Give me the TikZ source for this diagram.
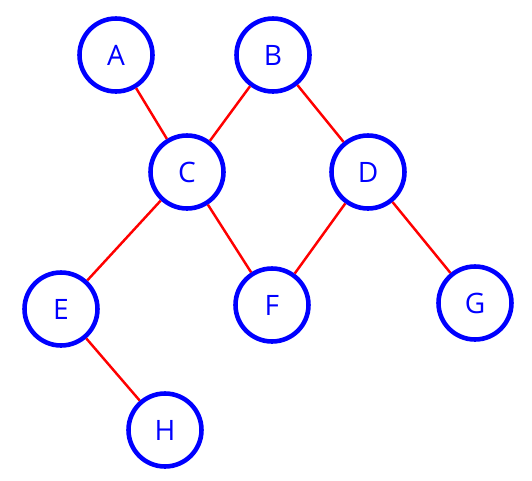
\documentclass[tikz,border=0pt]{standalone}
\usepackage{xcolor}
\usepackage{fontspec}
\setsansfont{Open Sans}

\tikzset{
  vertex/.style={circle, draw=blue, line width=2.6pt, minimum size=1.46cm,
    inner sep=0pt, text=blue, font=\sffamily\fontsize{16}{16}\selectfont},
  edge/.style={draw=red, line width=1.4pt}
}

\begin{document}
\begin{tikzpicture}[scale=1]
    \useasboundingbox (0,0) rectangle (10.64,9.6);
    % Vertices
    \node[vertex] (A) at (2.32,8.50) {A};
    \node[vertex] (B) at (5.46,8.50) {B};
    \node[vertex] (C) at (3.74,6.16) {C};
    \node[vertex] (D) at (7.36,6.16) {D};
    \node[vertex] (E) at (1.22,3.42) {E};
    \node[vertex] (F) at (5.44,3.50) {F};
    \node[vertex] (G) at (9.50,3.54) {G};
    \node[vertex] (H) at (3.30,1.00) {H};
    % Edges
    \draw[edge] (A) -- (C);
    \draw[edge] (B) -- (C);
    \draw[edge] (B) -- (D);
    \draw[edge] (C) -- (E);
    \draw[edge] (C) -- (F);
    \draw[edge] (D) -- (F);
    \draw[edge] (D) -- (G);
    \draw[edge] (E) -- (H);
\end{tikzpicture}
\end{document}
